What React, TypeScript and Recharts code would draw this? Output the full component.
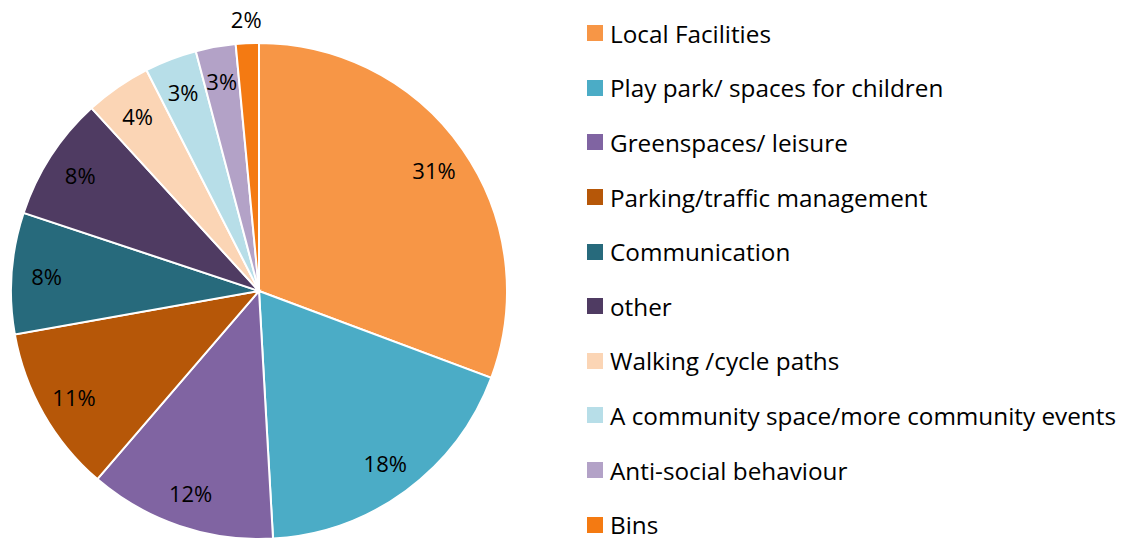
import { Cell, Legend, Pie, PieChart } from "recharts";

const categories = [
  "Local Facilities",
  "Play park/ spaces for children",
  "Greenspaces/ leisure",
  "Parking/traffic management",
  "Communication",
  "other",
  "Walking /cycle paths",
  "A community space/more community events",
  "Anti-social behaviour",
  "Bins",
];
const shares = [30.7, 18.4, 12.2, 10.9, 7.9, 8.1, 4.3, 3.4, 2.6, 1.5];
const percentLabels = ["31%", "18%", "12%", "11%", "8%", "8%", "4%", "3%", "3%", "2%"];
const colors = [
  "#F79646",
  "#4BACC6",
  "#8064A2",
  "#B65708",
  "#276A7C",
  "#4F3B62",
  "#FBD5B5",
  "#B7DEE8",
  "#B3A2C7",
  "#F47A12",
];

const data = categories.map((name, i) => ({ name, value: shares[i] }));
const FONT = "'Open Sans', Lato, sans-serif";
const RAD = Math.PI / 180;

function renderLabel(props: any) {
  const { cx, cy, midAngle, outerRadius, index } = props;
  const r = index === categories.length - 1 ? outerRadius + 24 : outerRadius - 35;
  const x = cx + r * Math.cos(-midAngle * RAD);
  const y = cy + r * Math.sin(-midAngle * RAD);
  return (
    <text x={x} y={y} textAnchor="middle" dominantBaseline="central" fill="#000" fontSize={22} fontFamily={FONT}>
      {percentLabels[index]}
    </text>
  );
}

// legend drawn in the data order (recharts 3 sorts payload by name otherwise)
function renderLegend() {
  return (
    <div style={{ fontFamily: FONT, fontSize: 24.3, color: "#000" }}>
      {categories.map((name, i) => (
        <div key={name} style={{ height: 54.6, display: "flex", alignItems: "center", whiteSpace: "nowrap" }}>
          <span style={{ width: 16, height: 16, background: colors[i], marginRight: 7, flex: "none" }} />
          <span>{name}</span>
        </div>
      ))}
    </div>
  );
}

export default function App() {
  return (
    <div style={{ position: "absolute", left: 0, top: 0, background: "#fff" }}>
      <PieChart width={1133} height={539} margin={{ top: 0, right: 0, bottom: 0, left: 0 }}>
        <Pie
          data={data}
          dataKey="value"
          nameKey="name"
          cx={259}
          cy={291}
          outerRadius={248}
          startAngle={90}
          endAngle={-270}
          stroke="#fff"
          strokeWidth={2}
          label={renderLabel}
          labelLine={false}
          isAnimationActive={false}
        >
          {data.map((d, i) => (
            <Cell key={d.name} fill={colors[i]} />
          ))}
        </Pie>
        <Legend
          layout="vertical"
          align="right"
          verticalAlign="top"
          content={renderLegend}
          wrapperStyle={{ left: 587, top: 6, width: 546 }}
        />
      </PieChart>
    </div>
  );
}
